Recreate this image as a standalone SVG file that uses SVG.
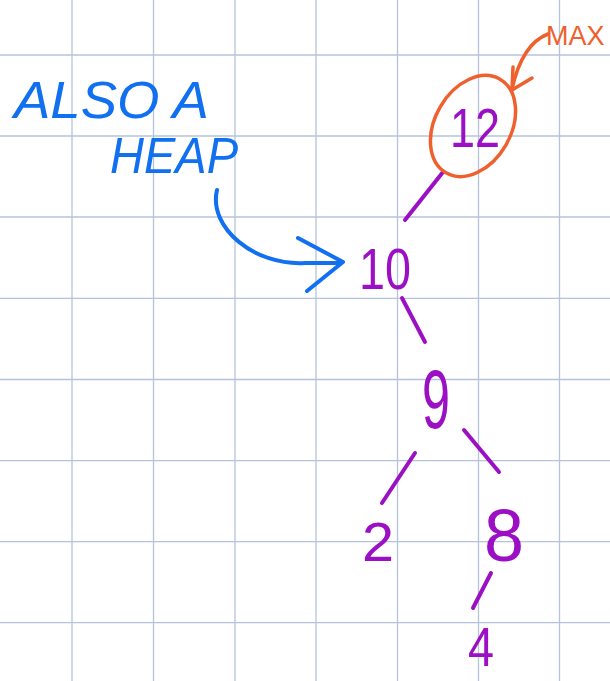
<svg xmlns="http://www.w3.org/2000/svg" width="610" height="681" viewBox="0 0 610 681">
<style>
.grid line{stroke:#b4c3dc;stroke-width:1.3}
.num{font-family:"Liberation Sans","DejaVu Sans",sans-serif;fill:#9b10c4;text-anchor:middle}
.edge{stroke:#9b10c4;stroke-width:4;stroke-linecap:round;fill:none}
.blue{font-family:"Liberation Sans","DejaVu Sans",sans-serif;fill:#1070f0;font-style:italic}
.org{stroke:#f0602e;stroke-width:3.5;fill:none;stroke-linecap:round;stroke-linejoin:round}
.bl{stroke:#1070f0;stroke-width:4;fill:none;stroke-linecap:round;stroke-linejoin:round}
</style>
<rect width="610" height="681" fill="#ffffff"/>
<g class="grid">
<line x1="72" y1="0" x2="72" y2="681"/>
<line x1="153.5" y1="0" x2="153.5" y2="681"/>
<line x1="235" y1="0" x2="235" y2="681"/>
<line x1="316" y1="0" x2="316" y2="681"/>
<line x1="397.5" y1="0" x2="397.5" y2="681"/>
<line x1="478.5" y1="0" x2="478.5" y2="681"/>
<line x1="559.5" y1="0" x2="559.5" y2="681"/>
<line x1="0" y1="55" x2="610" y2="55"/>
<line x1="0" y1="136" x2="610" y2="136"/>
<line x1="0" y1="217" x2="610" y2="217"/>
<line x1="0" y1="298.3" x2="610" y2="298.3"/>
<line x1="0" y1="379.5" x2="610" y2="379.5"/>
<line x1="0" y1="460.7" x2="610" y2="460.7"/>
<line x1="0" y1="541.7" x2="610" y2="541.7"/>
<line x1="0" y1="622.7" x2="610" y2="622.7"/>
</g>
<g id="connectors">
<line class="edge" x1="443" y1="172" x2="405" y2="220"/>
<line class="edge" x1="402" y1="298" x2="425" y2="342"/>
<line class="edge" x1="415" y1="453" x2="382" y2="503"/>
<line class="edge" x1="464" y1="430" x2="499" y2="472"/>
<line class="edge" x1="491" y1="573" x2="473" y2="608"/>
</g>
<g id="node-12">
<ellipse class="org" cx="473" cy="126" rx="38" ry="54" transform="rotate(30 473 126)"/>
<text class="num" x="475" y="147" font-size="56" textLength="50" lengthAdjust="spacingAndGlyphs">12</text>
</g>
<g id="node-10"><text class="num" x="385" y="289" font-size="58" textLength="52" lengthAdjust="spacingAndGlyphs">10</text></g>
<g id="node-9"><text class="num" x="436" y="428" font-size="84" textLength="28" lengthAdjust="spacingAndGlyphs">9</text></g>
<g id="node-2"><text class="num" x="378" y="561" font-size="56" textLength="32" lengthAdjust="spacingAndGlyphs">2</text></g>
<g id="node-8"><text class="num" x="504" y="561" font-size="74" textLength="40" lengthAdjust="spacingAndGlyphs">8</text></g>
<g id="node-4"><text class="num" x="481" y="666" font-size="56" textLength="26" lengthAdjust="spacingAndGlyphs">4</text></g>
<g id="label-also-a-heap">
<text class="blue" x="14" y="118" font-size="52" textLength="195" lengthAdjust="spacingAndGlyphs">ALSO A</text>
<text class="blue" x="110" y="173" font-size="50" textLength="128" lengthAdjust="spacingAndGlyphs">HEAP</text>
<path class="bl" d="M217 190 C208 228 255 266 305 263 L340 263"/>
<path class="bl" d="M298 238 L343 262 L307 291"/>
</g>
<g id="label-max">
<text x="546" y="45" font-family="Liberation Sans, DejaVu Sans, sans-serif" font-size="27" fill="#f0602e">MAX</text>
<path class="org" d="M548 34 Q522 44 512 89"/>
<path class="org" d="M513 67 L512 90 L532 78"/>
</g>
</svg>
